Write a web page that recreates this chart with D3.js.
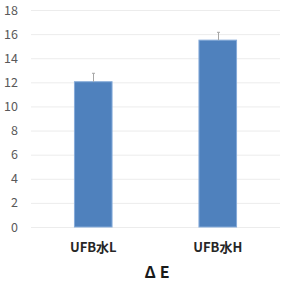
<!DOCTYPE html>
<html><head><meta charset="utf-8">
<script src="https://cdn.jsdelivr.net/npm/d3@7"></script>
<style>body{margin:0;background:#fff}svg{display:block}</style>
</head><body>
<script>
const categories = ["UFB水L", "UFB水H"];
const values = [12.05, 15.5];
const errors = [0.7, 0.65];
const yTicks = [0, 2, 4, 6, 8, 10, 12, 14, 16, 18];
const axisTitle = "ΔE";

const W = 285, H = 292;
const svg = d3.select("body").append("svg").attr("width", W).attr("height", H);
const font = "'Noto Sans CJK JP', 'Noto Sans', sans-serif";
const x = d3.scaleBand().domain(categories).range([31, 280]).paddingInner(0.69).paddingOuter(0.345);
const y = d3.scaleLinear().domain([0, 18]).range([227, 10]);

const yAxis = d3.axisLeft(y).tickValues(yTicks).tickSize(-(280 - 31)).tickPadding(13);
const gy = svg.append("g").attr("transform", "translate(31,0)").call(yAxis);
gy.select(".domain").remove();
gy.selectAll(".tick line").attr("stroke", "#ececec").attr("stroke-width", 1);
gy.selectAll(".tick text").attr("fill", "#595959").style("font-family", font).style("font-size", "12.5px");

svg.selectAll("rect.bar").data(categories).enter().append("rect")
  .attr("class", "bar")
  .attr("x", d => x(d) + 0.5)
  .attr("width", x.bandwidth() - 1)
  .attr("y", (d, i) => y(values[i]))
  .attr("height", (d, i) => y(0) - y(values[i]))
  .attr("fill", "#4f81bd").attr("stroke", "#86abd9").attr("stroke-width", 1);

const eb = svg.append("g").attr("stroke", "#a6a6a6").attr("stroke-width", 1);
categories.forEach((c, i) => {
  const cx = Math.round(x(c) + x.bandwidth() / 2) + 0.5;
  eb.append("line").attr("x1", cx).attr("x2", cx).attr("y1", y(values[i])).attr("y2", y(values[i] + errors[i]));
  eb.append("line").attr("x1", cx - 1.5).attr("x2", cx + 1.5).attr("y1", y(values[i] + errors[i])).attr("y2", y(values[i] + errors[i]));
});

const xAxis = d3.axisBottom(x).tickSize(0).tickPadding(0);
const gx = svg.append("g").attr("transform", "translate(0,227)").call(xAxis);
gx.select(".domain").remove();
gx.selectAll(".tick text").attr("y", 25).attr("dy", 0).attr("fill", "#262626")
  .style("font-family", font).style("font-size", "13px").style("font-weight", "bold");

svg.append("text").attr("x", 159).attr("y", 278).attr("text-anchor", "middle")
  .attr("fill", "#1a1a1a").style("font-family", font).style("font-size", "16px").style("font-weight", "bold")
  .style("letter-spacing", "4px")
  .text(axisTitle);
</script>
</body></html>
